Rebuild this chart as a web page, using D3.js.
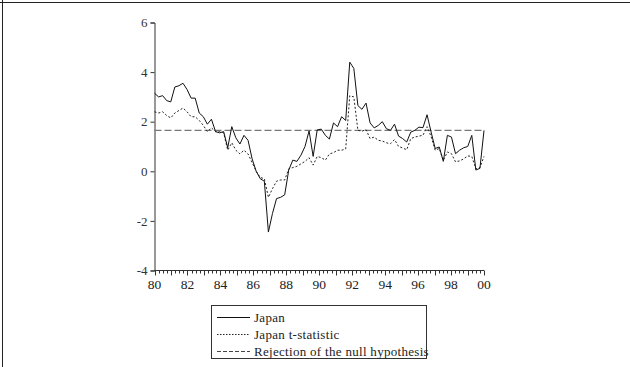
<!DOCTYPE html>
<html>
<head>
<meta charset="utf-8">
<script src="https://d3js.org/d3.v7.min.js"></script>
<style>
  body { margin: 0; background: #fff; }
  text { font-family: "Liberation Serif", "Times New Roman", serif; }
</style>
</head>
<body>
<svg width="630" height="367"></svg>
<script>
// quarterly series, 1980Q1 .. 2000Q2
var japan = [
  3.15, 3.0, 3.05, 2.85, 2.8, 3.4, 3.45, 3.55, 3.3, 2.95,
  2.95, 2.35, 2.2, 1.9, 2.1, 1.6, 1.55, 1.6, 0.95, 1.8,
  1.35, 1.1, 1.45, 1.25, 0.5, 0.0, -0.3, -0.4, -2.45, -1.7,
  -1.1, -1.05, -0.95, 0.05, 0.45, 0.4, 0.65, 1.0, 1.63, 0.6,
  1.67, 1.7, 1.45, 1.3, 1.95, 1.8, 2.2, 2.05, 4.4, 4.15,
  2.65, 2.5, 2.75, 1.95, 1.75, 1.85, 2.0, 1.72, 1.65, 1.9,
  1.42, 1.32, 1.18, 1.58, 1.65, 1.78, 1.76, 2.28, 1.58, 0.92,
  0.98, 0.4, 1.45, 1.38, 0.71, 0.85, 0.95, 1.0, 1.45, 0.05,
  0.12, 1.65
];
var tstat = [
  2.4, 2.35, 2.4, 2.25, 2.15, 2.35, 2.45, 2.55, 2.4, 2.2,
  2.2, 2.05, 1.85, 1.6, 1.75, 1.6, 1.6, 1.55, 0.85, 1.15,
  0.85, 0.7, 0.85, 0.7, 0.35, 0.0, -0.25, -0.3, -1.05, -0.7,
  -0.4, -0.35, -0.35, 0.1, 0.15, 0.2, 0.3, 0.4, 0.55, 0.25,
  0.6, 0.55, 0.45, 0.7, 0.75, 0.85, 0.85, 0.9, 3.05, 3.0,
  1.65, 1.62, 1.68, 1.32, 1.38, 1.25, 1.22, 1.15, 1.11, 1.28,
  1.0, 0.94, 0.87, 1.32, 1.38, 1.42, 1.45, 1.8, 1.4, 0.85,
  0.92, 0.44, 0.78, 0.71, 0.38, 0.42, 0.5, 0.62, 0.6, 0.1,
  0.15, 0.6
];
var critical = 1.65;
var yTicks = [-4, -2, 0, 2, 4, 6];
var xYears = [1980, 1982, 1984, 1986, 1988, 1990, 1992, 1994, 1996, 1998, 2000];
var legendLabels = ["Japan", "Japan t-statistic", "Rejection of the null hypothesis"];

var svg = d3.select("svg");

// frame lines at top / left of the picture
svg.append("line").attr("x1", 0).attr("x2", 630).attr("y1", 2.5).attr("y2", 2.5)
  .attr("stroke", "#222").attr("stroke-width", 1);
svg.append("line").attr("x1", 2.5).attr("x2", 2.5).attr("y1", 0).attr("y2", 367)
  .attr("stroke", "#222").attr("stroke-width", 1);

var x0 = 154.5, x1 = 484;
var x = d3.scaleLinear().domain([1980, 2000]).range([x0, x1]);
var xi = d3.scaleLinear().domain([0, japan.length - 1]).range([x0, x1]);
var y = d3.scaleLinear().domain([-4, 6]).range([270.5, 22.5]);

// y axis
var yAxis = svg.append("g").attr("transform", "translate(" + x0 + ",0)")
  .call(d3.axisLeft(y).tickValues(yTicks).tickSize(4).tickPadding(3)
    .tickFormat(function(d){ return String(d); }));
yAxis.attr("font-family", null).attr("font-size", null);
yAxis.select(".domain").attr("stroke", "#333");
yAxis.selectAll(".tick line").attr("stroke", "#333");
yAxis.selectAll("text").attr("font-size", 13).attr("fill", "#333");

// x axis: quarterly minor ticks, yearly labels every two years
var xAxisG = svg.append("g").attr("transform", "translate(0," + y(-4) + ")");
xAxisG.append("line").attr("x1", x0).attr("x2", x1).attr("stroke", "#333");
var minor = d3.range(1980, 2000.01, 0.25);
xAxisG.selectAll(".mt").data(minor).enter().append("line")
  .attr("x1", function(d){ return Math.round(x(d)) + 0.5; })
  .attr("x2", function(d){ return Math.round(x(d)) + 0.5; })
  .attr("y1", 0)
  .attr("y2", function(d){ return (d % 1 === 0) ? 5 : 3; })
  .attr("stroke", "#333").attr("stroke-width", 1);
xAxisG.selectAll(".lab").data(xYears).enter().append("text")
  .attr("x", function(d){ return x(d); })
  .attr("y", 18)
  .attr("text-anchor", "middle")
  .attr("font-size", 13.5).attr("fill", "#222")
  .text(function(d){ return String(d).slice(2); });

// threshold line
svg.append("line")
  .attr("x1", x(1980)).attr("x2", x(2000))
  .attr("y1", y(critical)).attr("y2", y(critical))
  .attr("stroke", "#777").attr("stroke-width", 1.4)
  .attr("stroke-dasharray", "7,3");

var line = d3.line()
  .x(function(d, i){ return xi(i); })
  .y(function(d){ return y(d); });

svg.append("path").datum(tstat)
  .attr("d", line).attr("fill", "none")
  .attr("stroke", "#222").attr("stroke-width", 1)
  .attr("stroke-dasharray", "2,2");

svg.append("path").datum(japan)
  .attr("d", line).attr("fill", "none")
  .attr("stroke", "#111").attr("stroke-width", 1);

// legend
var lg = svg.append("g");
lg.append("rect").attr("x", 211.5).attr("y", 305.5).attr("width", 215).attr("height", 53)
  .attr("fill", "#fff").attr("stroke", "#333").attr("stroke-width", 1);
var rowY = [317, 334, 351];
var styles = [
  {stroke: "#111", dash: null, w: 1},
  {stroke: "#222", dash: "1.5,1.5", w: 1},
  {stroke: "#444", dash: "4,2", w: 1}
];
legendLabels.forEach(function(lbl, i){
  lg.append("line").attr("x1", 217).attr("x2", 250)
    .attr("y1", rowY[i] + 0.5).attr("y2", rowY[i] + 0.5)
    .attr("stroke", styles[i].stroke).attr("stroke-width", styles[i].w)
    .attr("stroke-dasharray", styles[i].dash);
  lg.append("text").attr("x", 254).attr("y", rowY[i] + 4.5)
    .attr("font-size", 13).attr("fill", "#222")
    .attr("letter-spacing", 0.3)
    .text(lbl);
});
</script>
</body>
</html>
